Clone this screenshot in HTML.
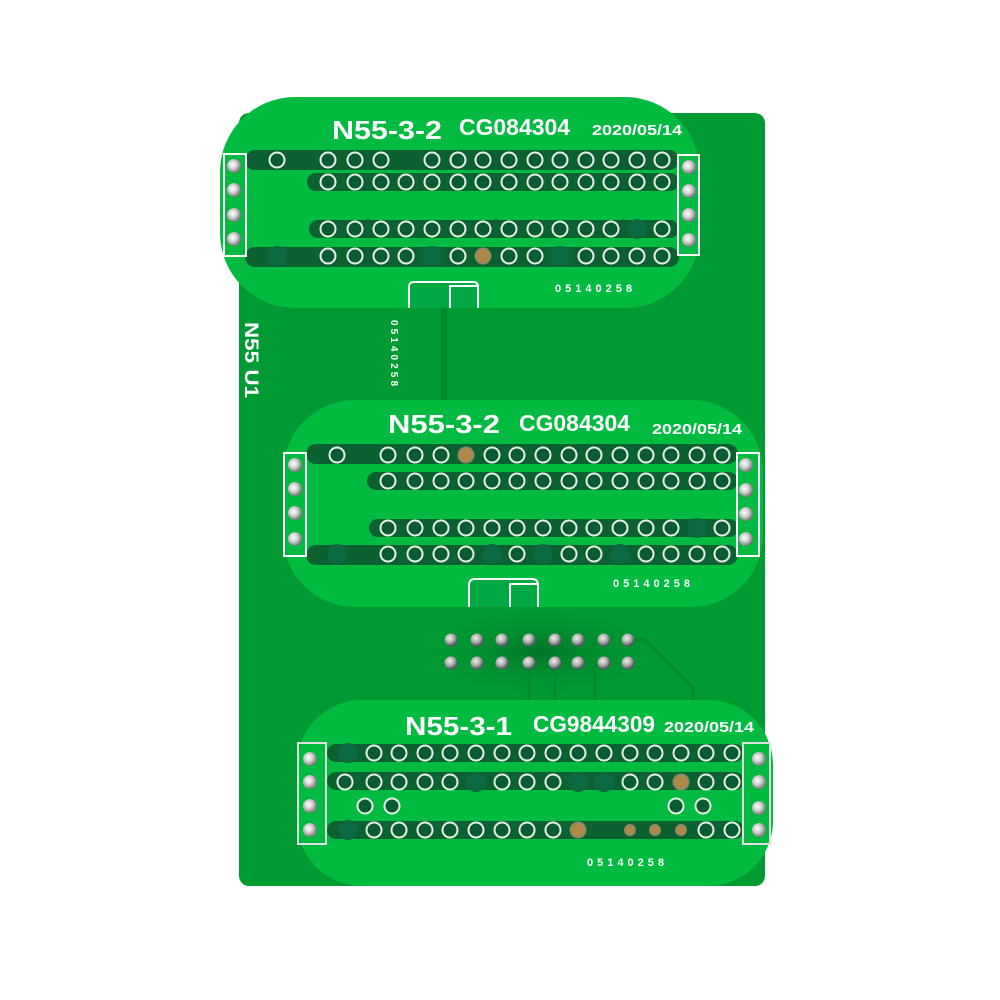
<!DOCTYPE html>
<html><head><meta charset="utf-8"><style>
html,body{margin:0;padding:0;background:#fff;width:1000px;height:1000px;overflow:hidden}
svg{display:block}
text{font-family:"Liberation Sans","DejaVu Sans",sans-serif;fill:#fff}
</style></head><body>
<svg width="1000" height="1000" viewBox="0 0 1000 1000" xmlns="http://www.w3.org/2000/svg">
<defs>
<radialGradient id="pin" cx="40%" cy="40%" r="60%"><stop offset="0" stop-color="#fff"/><stop offset="0.5" stop-color="#d0d0d0"/><stop offset="1" stop-color="#777"/></radialGradient>
<radialGradient id="hp" cx="40%" cy="35%" r="60%"><stop offset="0" stop-color="#eee"/><stop offset="0.6" stop-color="#aaa"/><stop offset="1" stop-color="#556"/></radialGradient>
<radialGradient id="shade" cx="50%" cy="50%" r="50%"><stop offset="0" stop-color="#005a20" stop-opacity="0.6"/><stop offset="1" stop-color="#009a33" stop-opacity="0"/></radialGradient>
<circle id="h" r="7.5" fill="#0a5a34" stroke="#e6f4e6" stroke-width="2"/>
<circle id="f" r="10" fill="#0c6a40"/>
<g id="g"><circle r="8.5" fill="#8a8a70"/><circle r="6.5" fill="#b08a45"/></g>
<g id="gs"><circle r="6" fill="#8a8a70"/><circle r="4.5" fill="#b08a45"/></g>
<circle id="p" r="7" fill="url(#pin)"/>
<circle id="hd" r="6.5" fill="url(#hp)"/>
</defs>

<rect x="239" y="113" width="526" height="773" rx="10" fill="#009a33"/>
<ellipse cx="540" cy="652" rx="130" ry="50" fill="url(#shade)"/>
<rect x="441" y="300" width="6" height="100" fill="#008a2e"/>
<g stroke="#008a2e" stroke-width="3" fill="none">
<path d="M529 663 V702"/><path d="M555 663 V702"/><path d="M578 640 L595 657 V702"/><path d="M628 640 H645 L693 688 V702"/>
</g>
<g>
<use href="#hd" x="451" y="640"/><use href="#hd" x="477" y="640"/><use href="#hd" x="502" y="640"/><use href="#hd" x="529" y="640"/><use href="#hd" x="555" y="640"/><use href="#hd" x="578" y="640"/><use href="#hd" x="604" y="640"/><use href="#hd" x="628" y="640"/>
<use href="#hd" x="451" y="663"/><use href="#hd" x="477" y="663"/><use href="#hd" x="502" y="663"/><use href="#hd" x="529" y="663"/><use href="#hd" x="555" y="663"/><use href="#hd" x="578" y="663"/><use href="#hd" x="604" y="663"/><use href="#hd" x="628" y="663"/>
</g>
<text transform="translate(245,322) rotate(90)" font-size="19" font-weight="bold" textLength="76" lengthAdjust="spacingAndGlyphs">N55 U1</text>
<text transform="translate(391,320) rotate(90)" font-size="10" font-weight="bold" textLength="66" lengthAdjust="spacing">05140258</text>

<!-- Board 1 -->
<rect x="220" y="97" width="480" height="211" rx="75" fill="#00bb40"/>
<g fill="#0b6230">
<rect x="245" y="150" width="434" height="20" rx="10"/>
<rect x="307" y="173" width="372" height="18" rx="9"/>
<rect x="309" y="220" width="370" height="18" rx="9"/>
<rect x="245" y="247" width="434" height="20" rx="10"/>
</g>
<rect x="224" y="154" width="22" height="102" fill="none" stroke="#fff" stroke-width="2"/>
<rect x="678" y="155" width="21" height="100" fill="none" stroke="#fff" stroke-width="2"/>
<use href="#p" x="234" y="166"/><use href="#p" x="234" y="190"/><use href="#p" x="234" y="215"/><use href="#p" x="234" y="239"/>
<use href="#p" x="689" y="167"/><use href="#p" x="689" y="191"/><use href="#p" x="689" y="215"/><use href="#p" x="689" y="240"/>
<g>
<use href="#h" x="277" y="160"/><use href="#h" x="328" y="160"/><use href="#h" x="355" y="160"/><use href="#h" x="381" y="160"/><use href="#h" x="432" y="160"/><use href="#h" x="458" y="160"/><use href="#h" x="483" y="160"/><use href="#h" x="509" y="160"/><use href="#h" x="535" y="160"/><use href="#h" x="560" y="160"/><use href="#h" x="586" y="160"/><use href="#h" x="611" y="160"/><use href="#h" x="637" y="160"/><use href="#h" x="662" y="160"/>
<use href="#h" x="328" y="182"/><use href="#h" x="355" y="182"/><use href="#h" x="381" y="182"/><use href="#h" x="406" y="182"/><use href="#h" x="432" y="182"/><use href="#h" x="458" y="182"/><use href="#h" x="483" y="182"/><use href="#h" x="509" y="182"/><use href="#h" x="535" y="182"/><use href="#h" x="560" y="182"/><use href="#h" x="586" y="182"/><use href="#h" x="611" y="182"/><use href="#h" x="637" y="182"/><use href="#h" x="662" y="182"/>
<use href="#h" x="328" y="229"/><use href="#h" x="355" y="229"/><use href="#h" x="381" y="229"/><use href="#h" x="406" y="229"/><use href="#h" x="432" y="229"/><use href="#h" x="458" y="229"/><use href="#h" x="483" y="229"/><use href="#h" x="509" y="229"/><use href="#h" x="535" y="229"/><use href="#h" x="560" y="229"/><use href="#h" x="586" y="229"/><use href="#h" x="611" y="229"/><use href="#f" x="637" y="229"/><use href="#h" x="662" y="229"/>
<use href="#f" x="277" y="256"/><use href="#h" x="328" y="256"/><use href="#h" x="355" y="256"/><use href="#h" x="381" y="256"/><use href="#h" x="406" y="256"/><use href="#f" x="432" y="256"/><use href="#h" x="458" y="256"/><use href="#g" x="483" y="256"/><use href="#h" x="509" y="256"/><use href="#h" x="535" y="256"/><use href="#f" x="560" y="256"/><use href="#h" x="586" y="256"/><use href="#h" x="611" y="256"/><use href="#h" x="637" y="256"/><use href="#h" x="662" y="256"/>
</g>
<text x="332" y="139" font-size="26" font-weight="bold" textLength="110" lengthAdjust="spacingAndGlyphs">N55-3-2</text>
<text x="459" y="135" font-size="23" font-weight="bold" textLength="111" lengthAdjust="spacingAndGlyphs">CG084304</text>
<text x="592" y="135" font-size="15" font-weight="bold" textLength="90" lengthAdjust="spacingAndGlyphs">2020/05/14</text>
<text x="555" y="292" font-size="11" font-weight="bold" textLength="77" lengthAdjust="spacing">05140258</text>
<rect x="408" y="282" width="70" height="26" fill="#00a844"/>
<path d="M409 308 V287 Q409 282 414 282 H473 Q478 282 478 287 V308" fill="none" stroke="#fff" stroke-width="2"/>
<path d="M450 308 V286 H477" fill="none" stroke="#fff" stroke-width="2"/>

<!-- Board 2 -->
<rect x="283" y="400" width="480" height="207" rx="72" fill="#00bb40"/>
<g fill="#0b6230">
<rect x="306" y="444" width="432" height="20" rx="10"/>
<rect x="367" y="472" width="371" height="18" rx="9"/>
<rect x="369" y="519" width="369" height="18" rx="9"/>
<rect x="306" y="545" width="432" height="20" rx="10"/>
</g>
<rect x="284" y="453" width="22" height="103" fill="none" stroke="#fff" stroke-width="2"/>
<rect x="737" y="453" width="22" height="103" fill="none" stroke="#fff" stroke-width="2"/>
<use href="#p" x="295" y="465"/><use href="#p" x="295" y="489"/><use href="#p" x="295" y="513"/><use href="#p" x="295" y="539"/>
<use href="#p" x="746" y="465"/><use href="#p" x="746" y="490"/><use href="#p" x="746" y="514"/><use href="#p" x="746" y="539"/>
<g>
<use href="#h" x="337" y="455"/><use href="#h" x="388" y="455"/><use href="#h" x="415" y="455"/><use href="#h" x="441" y="455"/><use href="#g" x="466" y="455"/><use href="#h" x="492" y="455"/><use href="#h" x="517" y="455"/><use href="#h" x="543" y="455"/><use href="#h" x="569" y="455"/><use href="#h" x="594" y="455"/><use href="#h" x="620" y="455"/><use href="#h" x="646" y="455"/><use href="#h" x="671" y="455"/><use href="#h" x="697" y="455"/><use href="#h" x="722" y="455"/>
<use href="#h" x="388" y="481"/><use href="#h" x="415" y="481"/><use href="#h" x="441" y="481"/><use href="#h" x="466" y="481"/><use href="#h" x="492" y="481"/><use href="#h" x="517" y="481"/><use href="#h" x="543" y="481"/><use href="#h" x="569" y="481"/><use href="#h" x="594" y="481"/><use href="#h" x="620" y="481"/><use href="#h" x="646" y="481"/><use href="#h" x="671" y="481"/><use href="#h" x="697" y="481"/><use href="#h" x="722" y="481"/>
<use href="#h" x="388" y="528"/><use href="#h" x="415" y="528"/><use href="#h" x="441" y="528"/><use href="#h" x="466" y="528"/><use href="#h" x="492" y="528"/><use href="#h" x="517" y="528"/><use href="#h" x="543" y="528"/><use href="#h" x="569" y="528"/><use href="#h" x="594" y="528"/><use href="#h" x="620" y="528"/><use href="#h" x="646" y="528"/><use href="#h" x="671" y="528"/><use href="#f" x="697" y="528"/><use href="#h" x="722" y="528"/>
<use href="#f" x="337" y="554"/><use href="#h" x="388" y="554"/><use href="#h" x="415" y="554"/><use href="#h" x="441" y="554"/><use href="#h" x="466" y="554"/><use href="#f" x="492" y="554"/><use href="#h" x="517" y="554"/><use href="#f" x="543" y="554"/><use href="#h" x="569" y="554"/><use href="#h" x="594" y="554"/><use href="#f" x="620" y="554"/><use href="#h" x="646" y="554"/><use href="#h" x="671" y="554"/><use href="#h" x="697" y="554"/><use href="#h" x="722" y="554"/>
</g>
<text x="388" y="433" font-size="26" font-weight="bold" textLength="112" lengthAdjust="spacingAndGlyphs">N55-3-2</text>
<text x="519" y="431" font-size="23" font-weight="bold" textLength="111" lengthAdjust="spacingAndGlyphs">CG084304</text>
<text x="652" y="434" font-size="15" font-weight="bold" textLength="90" lengthAdjust="spacingAndGlyphs">2020/05/14</text>
<text x="613" y="587" font-size="11" font-weight="bold" textLength="77" lengthAdjust="spacing">05140258</text>
<rect x="468" y="579" width="70" height="28" fill="#00a844"/>
<path d="M469 607 V585 Q469 579 475 579 H532 Q538 579 538 585 V607" fill="none" stroke="#fff" stroke-width="2"/>
<path d="M510 607 V584 H537" fill="none" stroke="#fff" stroke-width="2"/>

<!-- Board 3 -->
<rect x="297" y="700" width="476" height="186" rx="65" fill="#00bb40"/>
<g fill="#0b6230">
<rect x="327" y="744" width="417" height="18" rx="9"/>
<rect x="327" y="772" width="417" height="18" rx="9"/>
<rect x="327" y="821" width="417" height="18" rx="9"/>
</g>
<rect x="298" y="743" width="28" height="101" fill="none" stroke="#e0e0e0" stroke-width="2"/>
<rect x="743" y="743" width="27" height="101" fill="none" stroke="#e0e0e0" stroke-width="2"/>
<use href="#p" x="310" y="759"/><use href="#p" x="310" y="782"/><use href="#p" x="310" y="806"/><use href="#p" x="310" y="830"/>
<use href="#p" x="759" y="759"/><use href="#p" x="759" y="782"/><use href="#p" x="759" y="808"/><use href="#p" x="759" y="830"/>
<g>
<use href="#f" x="348" y="753"/><use href="#h" x="374" y="753"/><use href="#h" x="399" y="753"/><use href="#h" x="425" y="753"/><use href="#h" x="450" y="753"/><use href="#h" x="476" y="753"/><use href="#h" x="502" y="753"/><use href="#h" x="527" y="753"/><use href="#h" x="553" y="753"/><use href="#h" x="578" y="753"/><use href="#h" x="604" y="753"/><use href="#h" x="630" y="753"/><use href="#h" x="655" y="753"/><use href="#h" x="681" y="753"/><use href="#h" x="706" y="753"/><use href="#h" x="732" y="753"/>
<use href="#h" x="345" y="782"/><use href="#h" x="374" y="782"/><use href="#h" x="399" y="782"/><use href="#h" x="425" y="782"/><use href="#h" x="450" y="782"/><use href="#f" x="476" y="782"/><use href="#h" x="502" y="782"/><use href="#h" x="527" y="782"/><use href="#h" x="553" y="782"/><use href="#f" x="578" y="782"/><use href="#f" x="604" y="782"/><use href="#h" x="630" y="782"/><use href="#h" x="655" y="782"/><use href="#g" x="681" y="782"/><use href="#h" x="706" y="782"/><use href="#h" x="732" y="782"/>
<use href="#h" x="365" y="806"/><use href="#h" x="392" y="806"/><use href="#h" x="676" y="806"/><use href="#h" x="703" y="806"/>
<use href="#f" x="348" y="830"/><use href="#h" x="374" y="830"/><use href="#h" x="399" y="830"/><use href="#h" x="425" y="830"/><use href="#h" x="450" y="830"/><use href="#h" x="476" y="830"/><use href="#h" x="502" y="830"/><use href="#h" x="527" y="830"/><use href="#h" x="553" y="830"/><use href="#g" x="578" y="830"/><use href="#gs" x="630" y="830"/><use href="#gs" x="655" y="830"/><use href="#gs" x="681" y="830"/><use href="#h" x="706" y="830"/><use href="#h" x="732" y="830"/>
</g>
<text x="405" y="735" font-size="26" font-weight="bold" textLength="107" lengthAdjust="spacingAndGlyphs">N55-3-1</text>
<text x="533" y="732" font-size="23" font-weight="bold" textLength="122" lengthAdjust="spacingAndGlyphs">CG9844309</text>
<text x="664" y="732" font-size="15" font-weight="bold" textLength="90" lengthAdjust="spacingAndGlyphs">2020/05/14</text>
<text x="587" y="866" font-size="11" font-weight="bold" textLength="77" lengthAdjust="spacing">05140258</text>
</svg>
</body></html>
